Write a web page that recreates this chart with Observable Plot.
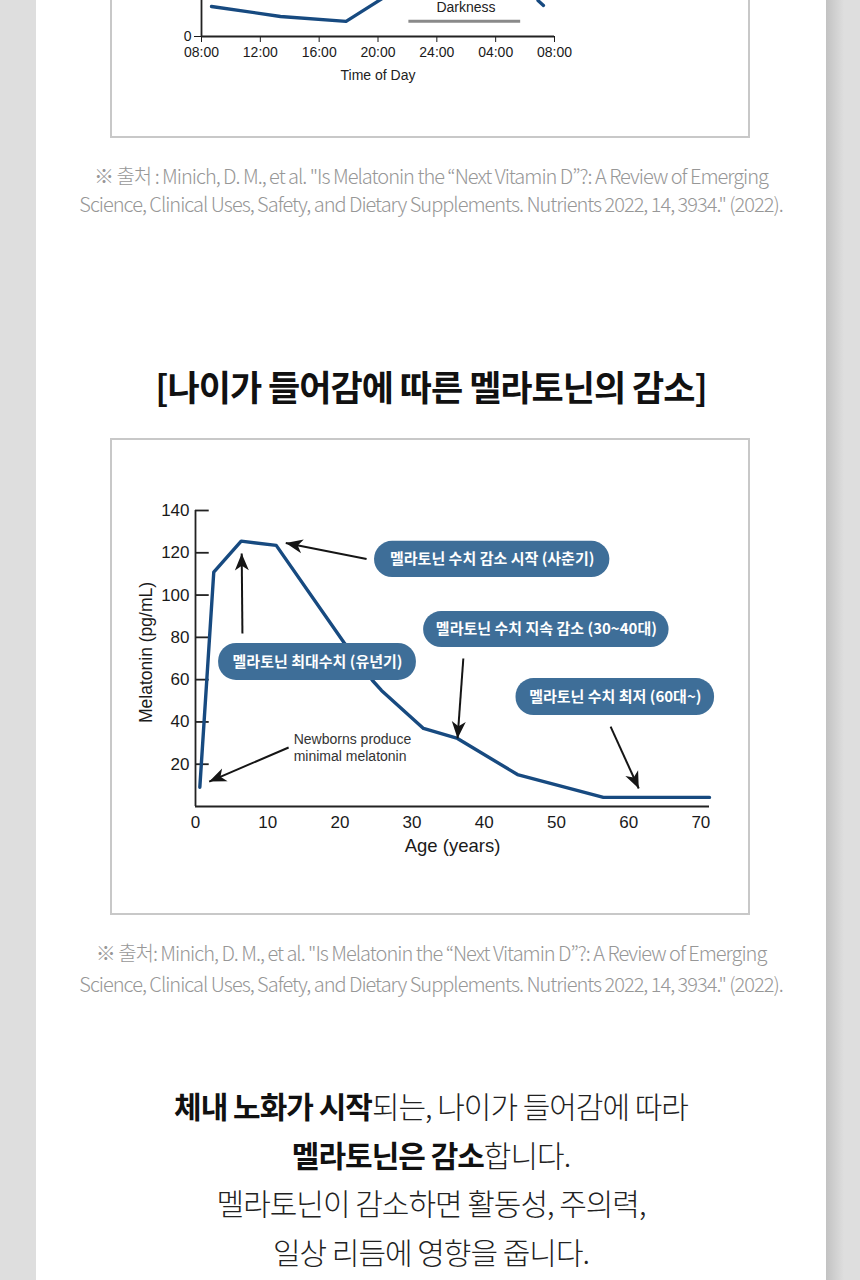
<!DOCTYPE html>
<html><head><meta charset="utf-8">
<script src="https://cdn.jsdelivr.net/npm/d3@7"></script>
<script src="https://cdn.jsdelivr.net/npm/@observablehq/plot@0.6"></script>
<style>
html,body{margin:0;padding:0}
body{width:860px;height:1280px;background:#dedede;position:relative;overflow:hidden;font-family:"Noto Sans CJK KR","Noto Sans",sans-serif}
#panel{position:absolute;left:36px;top:0;width:790px;height:1280px;background:#fff}
#shadow{position:absolute;left:826px;top:0;width:18px;height:1280px;background:linear-gradient(to right,#c2c2c2,#dedede)}
.box{position:absolute;box-sizing:border-box;border:2px solid #c8c8c8;pointer-events:none}
#box1{left:110px;top:-20px;width:640px;height:158px}
#box2{left:110px;top:438px;width:640px;height:477px}
.chart{position:absolute}
.cap{position:absolute;left:36px;width:790px;text-align:center;color:#979797;font-size:20px;font-weight:300;letter-spacing:-1px;white-space:nowrap}
#title{position:absolute;left:36px;top:361px;width:790px;line-height:50px;text-align:center;font-size:35px;font-weight:700;color:#111;letter-spacing:-1px;white-space:nowrap}
#body{position:absolute;left:36px;top:1081px;width:790px;text-align:center;font-size:30px;font-weight:300;color:#222;line-height:48.5px;letter-spacing:-1px;white-space:nowrap}
#body b{font-weight:700;color:#111}
g[aria-label="pill-text"] text{letter-spacing:-0.5px}
</style>
</head><body>
<div id="panel"></div>
<div id="shadow"></div>
<div id="top" class="chart" style="left:110px;top:-164px"></div>
<div class="box" id="box1"></div>
<div class="cap" style="top:162px;line-height:28px">※ 출처 : Minich, D. M., et al. "Is Melatonin the “Next Vitamin D”?: A Review of Emerging<br>Science, Clinical Uses, Safety, and Dietary Supplements. Nutrients 2022, 14, 3934." (2022).</div>
<div id="title">[나이가 들어감에 따른 멜라토닌의 감소]</div>
<div id="main" class="chart" style="left:110px;top:438px"></div>
<div class="box" id="box2"></div>
<div class="cap" style="top:937px;line-height:31px">※ 출처: Minich, D. M., et al. "Is Melatonin the “Next Vitamin D”?: A Review of Emerging<br>Science, Clinical Uses, Safety, and Dietary Supplements. Nutrients 2022, 14, 3934." (2022).</div>
<div id="body"><b>체내 노화가 시작</b>되는, 나이가 들어감에 따라<br><b>멜라토닌은 감소</b>합니다.<br>멜라토닌이 감소하면 활동성, 주의력,<br>일상 리듬에 영향을 줍니다.</div>
<script>
// ---------- main chart data ----------
const ages = [0.6, 2.53, 6.33, 11.18, 20.54, 24.52, 25.76, 31.58, 36.29, 44.6, 56.5, 71.2];
const melatonin = [9.1, 110.8, 125.5, 123.5, 77.7, 59.6, 54.9, 36.9, 32.2, 15.1, 4.3, 4.3];
const xTicks = [0, 10, 20, 30, 40, 50, 60, 70];
const yTicks = [20, 40, 60, 80, 100, 120, 140];
const pillLabels = ["멜라토닌 수치 감소 시작 (사춘기)", "멜라토닌 최대수치 (유년기)", "멜라토닌 수치 지속 감소 (30~40대)", "멜라토닌 수치 최저 (60대~)"];
const pillAge1 = [24.8, 3.2, 31.6, 44.4];
const pillAge2 = [57.4, 30.6, 65.6, 71.9];
const pillVal1 = [108.3, 59.6, 75.2, 43.0];
const pillVal2 = [125.4, 77.1, 92.2, 60.5];
const arrowAgeFrom = [23.7, 6.5, 37.1, 57.5, 12.9];
const arrowValFrom = [117.1, 81.8, 70.0, 37.8, 27.9];
const arrowAgeTo = [12.5, 6.4, 36.3, 61.4, 1.9];
const arrowValTo = [124.6, 119.7, 32.2, 8.5, 11.8];
const noteText = "Newborns produce\nminimal melatonin";
const noteAge = 13.6, noteVal = 28.1;

// ---------- previous (cropped) chart data ----------
const hours = [8.68, 13.37, 17.83, 21.5, 26, 29, 30.88, 31.25];
const levels = [15, 10, 7.6, 24.6, 70, 60, 18, 15.5];
const hourTicks = [8, 12, 16, 20, 24, 28, 32];
const darkFrom = 22.1, darkTo = 29.7, darkLevel = 7.65, darkLabelHour = 25.98, darkLabelLevel = 14.35;

const navy = "#174a80";
const pillFill = "#3e6e98";
const axisFont = "'Liberation Sans', Arial, Helvetica, sans-serif";
const krFont = "'Noto Sans CJK KR', sans-serif";

// ---- top cropped chart ----
const topData = hours.map((h, i) => ({h, v: levels[i]}));
const fmtHour = h => String(h % 24 === 0 ? 24 : h % 24).padStart(2, "0") + ":00";
const topPlot = Plot.plot({
  width: 640, height: 300,
  marginLeft: 91, marginRight: 196, marginTop: 20, marginBottom: 100,
  style: {fontFamily: axisFont, fontSize: "14px", color: "#1a1a1a", background: "transparent", overflow: "visible"},
  x: {domain: [8, 32], ticks: hourTicks, tickFormat: fmtHour, tickSize: 6, tickPadding: 5, label: null},
  y: {domain: [0, 90], ticks: [0], tickSize: 7, tickPadding: 3, label: null},
  marks: [
    Plot.ruleY([0], {stroke: "#222", strokeWidth: 1.8}),
    Plot.ruleX([8], {stroke: "#222", strokeWidth: 1.8}),
    Plot.ruleY([darkLevel], {x1: darkFrom, x2: darkTo, stroke: "#8a8a8a", strokeWidth: 3}),
    Plot.text(["Darkness"], {x: darkLabelHour, y: darkLabelLevel, fontSize: 14, fill: "#222"}),
    Plot.line(topData, {x: "h", y: "v", stroke: navy, strokeWidth: 3.3}),
    Plot.text(["Time of Day"], {frameAnchor: "bottom", lineAnchor: "middle", textAnchor: "middle", dy: 39, fontSize: 14, fill: "#222"})
  ]
});
document.getElementById("top").appendChild(topPlot);

// ---- main chart ----
const series = ages.map((a, i) => ({age: a, mel: melatonin[i]}));
const pills = pillLabels.map((t, i) => ({t, x1: pillAge1[i], x2: pillAge2[i], y1: pillVal1[i], y2: pillVal2[i], cx: (pillAge1[i] + pillAge2[i]) / 2, cy: (pillVal1[i] + pillVal2[i]) / 2}));
const arrows = arrowAgeFrom.map((a, i) => ({x1: a, y1: arrowValFrom[i], x2: arrowAgeTo[i], y2: arrowValTo[i]}));

const base = {
  width: 640, height: 477,
  marginLeft: 85, marginRight: 41, marginTop: 72, marginBottom: 109,
  style: {fontFamily: axisFont, fontSize: "17px", color: "#1a1a1a", background: "transparent", overflow: "visible"},
  x: {domain: [0, 71.2], ticks: xTicks, tickSize: 0, tickPadding: 9, label: null},
  y: {domain: [0, 140], ticks: yTicks, tickSize: 0, tickPadding: 6, label: null}
};
const probe = Plot.plot({...base, marks: [Plot.ruleY([0])]});
const sx = probe.scale("x"), sy = probe.scale("y");
arrows.forEach(a => {
  const dx = sx.apply(a.x2) - sx.apply(a.x1);
  const dy = sy.apply(a.y2) - sy.apply(a.y1);
  a.angle = Math.atan2(dx, -dy) * 180 / Math.PI;
});
const barbed = {draw(ctx, l, r) { ctx.moveTo(0, -l); ctx.lineTo(r, 0); ctx.lineTo(0, -l * 0.28); ctx.lineTo(-r, 0); ctx.closePath(); }};

let heads;
try {
  heads = Plot.vector(arrows, {x: "x2", y: "y2", rotate: "angle", length: 17, r: 7, shape: barbed, anchor: "end", fill: "#151515", stroke: "none"});
} catch (e) {
  heads = Plot.arrow(arrows, {x1: "x1", y1: "y1", x2: "x2", y2: "y2", stroke: "#151515", strokeWidth: 2, headLength: 14});
}

const mainPlot = Plot.plot({
  ...base,
  marks: [
    Plot.ruleY(yTicks, {x1: 0, x2: 1.9, stroke: "#222", strokeWidth: 1.8}),
    Plot.ruleX([0], {y1: 0, y2: 140, stroke: "#222", strokeWidth: 1.8}),
    Plot.ruleY([0], {stroke: "#222", strokeWidth: 1.8}),
    Plot.line(series, {x: "age", y: "mel", stroke: navy, strokeWidth: 3.4, strokeLinejoin: "round"}),
    Plot.link(arrows, {x1: "x1", y1: "y1", x2: "x2", y2: "y2", stroke: "#151515", strokeWidth: 2}),
    heads,
    Plot.rect(pills, {x1: "x1", x2: "x2", y1: "y1", y2: "y2", fill: pillFill, rx: 18}),
    Plot.text(pills, {x: "cx", y: "cy", text: "t", fill: "#fff", fontWeight: "bold", fontSize: 15, fontFamily: krFont, ariaLabel: "pill-text"}),
    Plot.text([noteText], {x: noteAge, y: noteVal, textAnchor: "start", fontSize: 14, lineHeight: 1.2, fill: "#333"}),
    Plot.text(["Age (years)"], {frameAnchor: "bottom", lineAnchor: "middle", textAnchor: "middle", dy: 40, fontSize: 18.5, fill: "#1a1a1a"}),
    Plot.text(["Melatonin (pg/mL)"], {frameAnchor: "left", lineAnchor: "middle", textAnchor: "middle", rotate: -90, dx: -49, dy: -6, fontSize: 17.5, fill: "#1a1a1a"})
  ]
});
document.getElementById("main").appendChild(mainPlot);
</script>
</body></html>
